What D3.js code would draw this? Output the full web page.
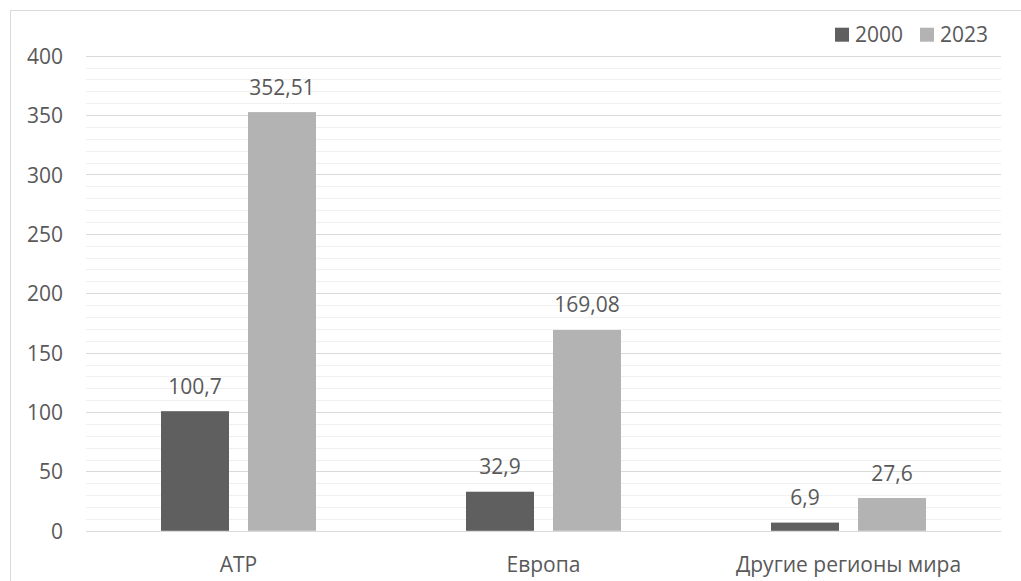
<!DOCTYPE html>
<html><head><meta charset="utf-8">
<script src="https://cdn.jsdelivr.net/npm/d3@7"></script>
<style>html,body{margin:0;padding:0;background:#fff;overflow:hidden}</style>
</head><body>
<svg id="c" width="1021" height="581"></svg>
<script>
const categories = ["АТР", "Европа", "Другие регионы мира"];
const seriesNames = ["2000", "2023"];
const values2000 = [100.7, 32.9, 6.9];
const values2023 = [352.51, 169.08, 27.6];
const yTicks = [0, 50, 100, 150, 200, 250, 300, 350, 400];

(function () {
const colors = {"2000": "#5f5f5f", "2023": "#b3b3b3"};
const textColor = "#595959";
const font = "'Open Sans', sans-serif";

const svg = d3.select("#c");
const plotL = 86, plotR = 1001, plotT = 55.7, plotB = 530.8;

// outer border (cropped at right/bottom in the reference)
svg.append("rect").attr("x", 10.5).attr("y", 10.5).attr("width", 1100).attr("height", 700)
  .attr("fill", "none").attr("stroke", "#d9d9d9").attr("stroke-width", 1);

const y = d3.scaleLinear().domain([0, 400]).range([plotB, plotT]);
const x0 = d3.scaleBand().domain(categories).range([plotL, plotR]).padding(0);
const groupW = 155;
const x1 = d3.scaleBand().domain(seriesNames).range([0, groupW]).paddingInner(19 / 87).paddingOuter(0);

// minor gridlines
const minor = d3.range(0, 401, 10).filter(v => v % 50 !== 0);
svg.append("g").selectAll("line").data(minor).join("line")
  .attr("x1", plotL).attr("x2", plotR)
  .attr("y1", d => Math.round(y(d)) + 0.5).attr("y2", d => Math.round(y(d)) + 0.5)
  .attr("stroke", "#f0f0f0").attr("stroke-width", 1);

// major gridlines
svg.append("g").selectAll("line").data(yTicks).join("line")
  .attr("x1", plotL).attr("x2", plotR)
  .attr("y1", d => Math.round(y(d)) + 0.5).attr("y2", d => Math.round(y(d)) + 0.5)
  .attr("stroke", "#d9d9d9").attr("stroke-width", 1);

// y axis labels
const yAxis = d3.axisLeft(y).tickValues(yTicks).tickSize(0).tickPadding(0).tickFormat(d => d);
const ya = svg.append("g").attr("transform", `translate(63,0)`).call(yAxis);
ya.select(".domain").remove();
ya.selectAll("text").attr("font-family", font).attr("font-size", 21).attr("fill", textColor)
  .attr("dy", "0.36em");

// x axis labels
const xAxis = d3.axisBottom(x0).tickSize(0).tickPadding(0);
const xa = svg.append("g").attr("transform", `translate(0,${plotB})`).call(xAxis);
xa.select(".domain").remove();
xa.selectAll("text").attr("font-family", font).attr("font-size", 21).attr("fill", textColor)
  .attr("dy", null).attr("y", 41);

// bars
const data = categories.map((c, i) => ({cat: c, vals: [
  {s: "2000", v: values2000[i]}, {s: "2023", v: values2023[i]}]}));

const g = svg.append("g").selectAll("g").data(data).join("g")
  .attr("transform", d => `translate(${x0(d.cat) + x0.bandwidth() / 2 - groupW / 2},0)`);

g.selectAll("rect").data(d => d.vals).join("rect")
  .attr("x", d => x1(d.s)).attr("width", x1.bandwidth())
  .attr("y", d => y(d.v)).attr("height", d => y(0) - y(d.v))
  .attr("fill", d => colors[d.s]);

g.selectAll("text").data(d => d.vals).join("text")
  .attr("x", d => x1(d.s) + x1.bandwidth() / 2)
  .attr("y", d => y(d.v) - 17.5)
  .attr("text-anchor", "middle")
  .attr("font-family", font).attr("font-size", 21).attr("fill", textColor)
  .text(d => String(d.v).replace(".", ","));

// legend
const legendX = [835, 920];
const lg = svg.append("g").selectAll("g").data(seriesNames).join("g")
  .attr("transform", (d, i) => `translate(${legendX[i]},0)`);
lg.append("rect").attr("x", 0).attr("y", 27.7).attr("width", 14).attr("height", 14)
  .attr("fill", d => colors[d]);
lg.append("text").attr("x", 20).attr("y", 41.5)
  .attr("font-family", font).attr("font-size", 21).attr("fill", textColor)
  .text(d => d);
})();
</script>
</body></html>
